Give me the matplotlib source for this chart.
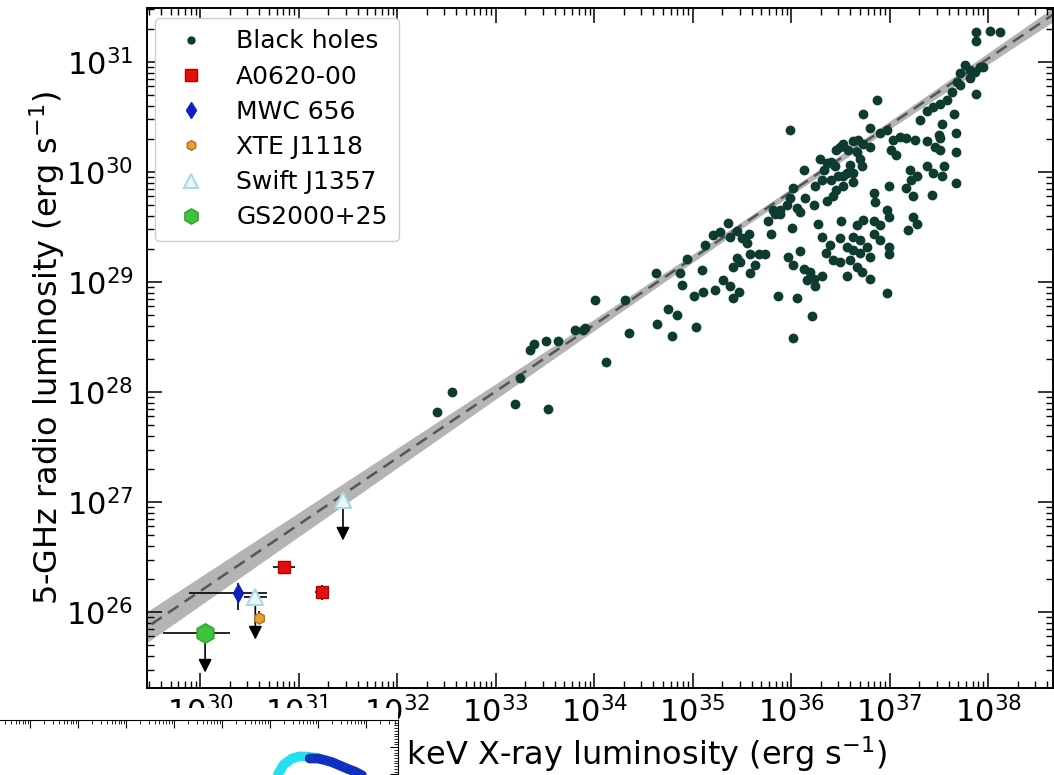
import numpy as np
import matplotlib.pyplot as plt
from matplotlib.lines import Line2D
from matplotlib.patches import Rectangle

# ---- data (log10 erg/s) ----
bh_lx = [32.40, 32.56, 33.20, 33.25, 33.35, 33.39, 33.51, 33.63, 33.53, 33.81,
         33.91, 33.89, 34.12, 34.01, 34.31, 34.35,
         34.63, 34.87, 34.94, 35.10, 35.13, 34.89, 35.01, 35.11, 35.23, 35.31,
         35.38, 35.41, 35.47, 34.75, 34.84, 34.64, 34.79, 35.03, 35.21, 35.28,
         35.36, 35.38, 35.45, 35.50, 35.55, 35.57, 35.58, 35.63, 35.45, 35.41,
         35.48, 35.58, 35.74, 35.87, 36.06, 36.02, 36.21, 35.80, 35.77, 35.82,
         35.89, 35.96, 36.02, 36.06, 36.01, 36.13, 36.14, 36.23, 36.24, 36.29,
         36.33, 36.36, 36.41, 36.46, 36.50, 36.53, 36.58, 36.63, 36.68, 36.73,
         36.80, 36.80, 36.73, 36.87, 36.90, 36.97, 37.04, 37.07, 37.02, 37.11,
         37.17, 37.26, 37.31, 37.38, 37.44, 37.51, 37.58, 37.63, 37.72, 37.88,
         37.65, 37.53, 37.50, 37.38, 37.46, 37.51, 37.38, 37.44, 37.55, 37.53,
         37.68, 37.68, 37.68, 37.43, 37.24, 37.17, 37.21, 37.28, 36.99, 36.84,
         36.85, 36.97, 36.99, 36.90, 36.84, 36.73, 36.67, 36.63, 36.70, 36.77,
         36.84, 36.90, 36.80, 36.70, 36.63, 36.57, 36.60, 36.67, 36.72, 36.80,
         36.57, 36.50, 36.43, 36.35, 36.31, 36.40, 36.50, 36.51, 36.27, 36.36,
         36.43, 36.46, 36.53, 36.63, 36.53, 36.60, 36.70, 36.72, 36.57, 36.48,
         36.63, 36.31, 36.41, 36.09, 35.97, 36.02, 36.13, 36.19, 36.23, 36.24,
         36.31, 36.16, 36.99, 36.99, 36.97, 37.19, 37.28, 37.24, 35.99, 35.99,
         35.89, 35.84, 36.09, 35.67, 36.45, 36.67, 37.22, 37.51,
         37.88, 37.88, 38.02, 38.12, 37.77, 37.82, 37.87, 37.92, 37.95, 37.82,
         37.72, 37.69]
bh_ly = [27.82, 28.00, 27.89, 28.13, 28.38, 28.44, 28.46, 28.46, 27.85, 28.56,
         28.58, 28.56, 28.27, 28.84, 28.84, 28.54,
         29.08, 29.08, 29.21, 29.11, 29.34, 28.97, 28.87, 28.91, 28.93, 29.02,
         28.96, 28.85, 28.91, 28.75, 28.70, 28.62, 28.51, 28.59, 29.43, 29.45,
         29.54, 29.41, 29.46, 29.40, 29.35, 29.44, 29.25, 29.15, 29.22, 29.14,
         29.18, 29.08, 29.25, 28.87, 28.85, 28.49, 28.69, 29.44, 29.55, 29.65,
         29.62, 29.70, 29.85, 29.67, 29.49, 30.02, 29.76, 29.70, 29.87, 30.12,
         30.02, 30.08, 30.09, 30.20, 30.23, 30.25, 30.20, 30.28, 30.29, 30.25,
         30.23, 30.40, 30.53, 30.65, 30.35, 30.38, 30.29, 30.15, 30.20, 30.32,
         30.31, 30.29, 30.47, 30.55, 30.59, 30.62, 30.65, 30.73, 30.79, 30.71,
         30.53, 30.44, 30.34, 30.28, 30.23, 30.20, 30.05, 29.99, 30.05, 29.96,
         30.35, 30.18, 29.90, 29.79, 29.78, 29.85, 30.02, 29.96, 29.87, 29.81,
         29.73, 29.65, 29.59, 29.52, 29.55, 29.56, 29.52, 29.41, 29.38, 29.32,
         29.44, 29.38, 29.23, 29.26, 29.29, 29.32, 29.20, 29.14, 29.09, 29.03,
         29.05, 29.18, 29.20, 29.26, 29.41, 29.34, 29.40, 29.55, 29.53, 29.74,
         29.78, 29.84, 29.87, 29.91, 29.96, 30.06, 30.12, 30.05, 29.99, 29.96,
         29.99, 29.93, 29.93, 29.28, 29.23, 29.15, 29.12, 29.09, 29.03, 28.96,
         29.05, 29.02, 29.32, 29.25, 28.90, 29.47, 29.53, 29.59, 30.38, 29.76,
         29.65, 29.62, 29.64, 29.25, 30.05, 30.18, 29.93, 30.31,
         31.27, 31.19, 31.28, 31.27, 30.97, 30.93, 30.91, 30.95, 30.95, 30.85,
         30.90, 30.82]

# fit: log Lr = fit_norm + fit_slope * (log Lx - fit_pivot)
fit_slope = 0.605
fit_slope_err = 0.021
fit_pivot = 36.0
fit_norm = 29.82
fit_norm_err = 0.03

# quiescent sources: log Lx, log Lr, errors (low, high)
a0620_lx = [30.85, 31.24]
a0620_ly = [26.41, 26.18]
a0620_xerr = [[0.11, 0.07], [0.11, 0.07]]
a0620_yerr = [[0.0, 0.07], [0.0, 0.07]]

mwc_lx = [30.38]
mwc_ly = [26.17]
mwc_xerr = [[0.49], [0.30]]
mwc_yerr = [[0.15], [0.09]]

xte_lx = [30.60]
xte_ly = [25.95]
xte_yerr = [[0.06], [0.06]]

swift_lx = [31.45, 30.56]
swift_ly = [27.02, 26.14]
swift_xerr = [[0.0, 0.12], [0.0, 0.12]]
swift_lim = [26.65, 25.75]

gs_lx = [30.05]
gs_ly = [25.81]
gs_xerr = [[0.43], [0.25]]
gs_lim = [25.45]

# the overlapping figure in the lower left corner
inset_cyan_x = [5.17, 5.29, 5.46, 5.63, 5.83, 6.04]
inset_cyan_y = [0.00, 0.18, 0.29, 0.33, 0.32, 0.29]
inset_blue_x = [5.83, 6.00, 6.15, 6.30, 6.46, 6.62, 6.77, 6.92]
inset_blue_y = [0.29, 0.29, 0.26, 0.22, 0.16, 0.10, 0.05, -0.02]

bh_col = '#0e3b30'


def lin_err(lv, err):
    lv = np.array(lv)
    lo = 10**lv - 10**(lv - np.array(err[0]))
    hi = 10**(lv + np.array(err[1])) - 10**lv
    return [lo, hi]


fig = plt.figure(figsize=(10.54, 7.75), dpi=100)
ax = fig.add_axes([147/1054, 87/775, 906/1054, 680/775])

lx = np.array(bh_lx)
ly = np.array(bh_ly)
ax.scatter(10**lx, 10**ly, s=50, color=bh_col, zorder=3, linewidths=0)

# fit line and band
xx = np.linspace(29.0, 39.0, 200)
yy = fit_norm + fit_slope*(xx - fit_pivot)
band = np.sqrt(fit_norm_err**2 + (fit_slope_err*(xx - fit_pivot))**2)
ax.fill_between(10**xx, 10**(yy - band), 10**(yy + band), color='#b4b4b4', lw=0, zorder=1)
ax.plot(10**xx, 10**yy, ls=(0, (5, 3)), color='#555555', lw=1.8, zorder=2)

ekw = dict(ls='none', ecolor='k', elinewidth=1.2, capsize=0, zorder=5)
ax.errorbar(10**np.array(a0620_lx), 10**np.array(a0620_ly),
            xerr=lin_err(a0620_lx, a0620_xerr), yerr=lin_err(a0620_ly, a0620_yerr),
            marker='s', ms=9, mfc='#e01010', mec='#c00000', **ekw)
ax.errorbar(10**np.array(mwc_lx), 10**np.array(mwc_ly),
            xerr=lin_err(mwc_lx, mwc_xerr), yerr=lin_err(mwc_ly, mwc_yerr),
            marker='d', ms=9, mfc='#1020c0', mec='#1020c0', **ekw)
ax.errorbar(10**np.array(xte_lx), 10**np.array(xte_ly),
            yerr=lin_err(xte_ly, xte_yerr),
            marker='h', ms=8, mfc='#e8a030', mec='#b07020', **ekw)
ax.errorbar(10**np.array(swift_lx), 10**np.array(swift_ly),
            xerr=lin_err(swift_lx, swift_xerr),
            marker='^', ms=11, mfc='#eaf6fa', mec='#add8e6', mew=1.5, **ekw)
ax.errorbar(10**np.array(gs_lx), 10**np.array(gs_ly),
            xerr=lin_err(gs_lx, gs_xerr),
            marker='h', ms=14, mfc='#3cc43c', mec='#30a030', **ekw)

# upper limit arrows
for xs, ys, lims in [(swift_lx, swift_ly, swift_lim), (gs_lx, gs_ly, gs_lim)]:
    for x0, y0, y1 in zip(xs, ys, lims):
        ax.annotate('', xy=(10**x0, 10**y1), xytext=(10**x0, 10**y0),
                    arrowprops=dict(arrowstyle='-|>', color='k', lw=1.2,
                                    mutation_scale=20, shrinkA=0, shrinkB=0),
                    zorder=4)

ax.set_xscale('log')
ax.set_yscale('log')
ax.set_xlim(10**29.46, 10**38.66)
ax.set_ylim(10**25.31, 10**31.49)
ax.tick_params(which='both', direction='in', top=True, right=True, labelsize=22)
ax.tick_params(which='major', length=11, width=1.1)
ax.tick_params(axis='x', which='major', pad=6)
ax.tick_params(axis='y', which='major', pad=10)
ax.tick_params(which='minor', length=5, width=1)
for s in ax.spines.values():
    s.set_linewidth(1.4)

ax.set_xlabel('1-10 keV X-ray luminosity (erg s$^{-1}$)', fontsize=23)
ax.set_ylabel('5-GHz radio luminosity (erg s$^{-1}$)', fontsize=23)
ax.xaxis.set_label_coords(0.506, -0.068)
ax.yaxis.set_label_coords(-0.088, 0.5)

handles = [
    Line2D([], [], ls='none', marker='o', ms=5, color=bh_col),
    Line2D([], [], ls='none', marker='s', ms=8, mfc='#e01010', mec='#c00000'),
    Line2D([], [], ls='none', marker='d', ms=8, mfc='#1020c0', mec='#1020c0'),
    Line2D([], [], ls='none', marker='h', ms=7, mfc='#e8a030', mec='#b07020'),
    Line2D([], [], ls='none', marker='^', ms=10, mfc='#eaf6fa', mec='#add8e6', mew=1.5),
    Line2D([], [], ls='none', marker='h', ms=11, mfc='#3cc43c', mec='#30a030'),
]
labels = ['Black holes', 'A0620-00', 'MWC 656', 'XTE J1118', 'Swift J1357', 'GS2000+25']
ax.legend(handles, labels, loc='upper left', fontsize=18, labelspacing=0.45,
          handlelength=2.0, handletextpad=0.8, borderpad=0.45, borderaxespad=0,
          framealpha=1, edgecolor='#cccccc', bbox_to_anchor=(8/906, 1 - 10/680))

# overlapping panel from another figure in the lower-left corner
fig.patches.append(Rectangle((0, 0), 398/1054, 67/775, transform=fig.transFigure,
                             facecolor='white', edgecolor='none', zorder=5))
iax = fig.add_axes([0, -0.02, 398/1054, 55/775 + 0.02], zorder=6)
iax.set_xscale('log')
iax.set_xlim(10**-0.625, 10**7.67)
iax.set_ylim(-0.3, 1)
iax.plot(10**np.array(inset_cyan_x), inset_cyan_y, color='#22e0f0', lw=7, solid_capstyle='round')
iax.plot(10**np.array(inset_blue_x), inset_blue_y, color='#1030c0', lw=7, solid_capstyle='round')
iax.spines['left'].set_visible(False)
iax.spines['bottom'].set_visible(False)
iax.tick_params(which='both', direction='in', top=True, right=True, bottom=False,
                left=False, labelbottom=False, labelleft=False)
iax.tick_params(which='major', length=6)
iax.tick_params(which='minor', length=3)
iax.yaxis.set_minor_locator(plt.MultipleLocator(0.05))
iax.set_yticks([0, 0.5])

fig.savefig('out.png', dpi=100)
